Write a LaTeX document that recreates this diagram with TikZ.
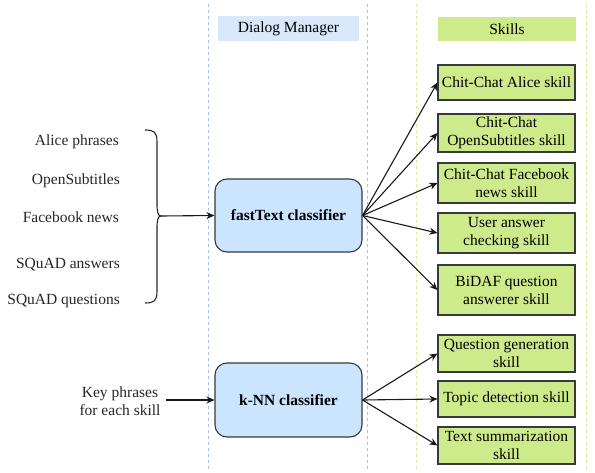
\documentclass[tikz,border=0pt]{standalone}
\usepackage{fontspec}
\setmainfont{Liberation Serif}
\newfontfamily\diagserif{Liberation Serif}
\usetikzlibrary{arrows.meta}
\definecolor{hdrblue}{HTML}{DAE8FC}
\definecolor{clsblue}{HTML}{CCE5FF}
\definecolor{skgreen}{HTML}{CDEB8B}
\definecolor{edgegray}{HTML}{36393D}
\definecolor{txtgray}{HTML}{262626}
\definecolor{laneblue}{HTML}{A9BFE6}
\definecolor{laneyellow}{HTML}{E2E89A}
\tikzset{
  every node/.style={font=\diagserif\fontsize{15.5}{18}\selectfont, text=black},
  lane/.style={dash pattern=on 3pt off 3pt, line width=0.8pt},
  hdr/.style={inner sep=0pt, anchor=center},
  clsbox/.style={draw=edgegray, fill=clsblue, rounded corners=12pt, line width=1.1pt,
    minimum width=147pt, minimum height=73pt, font=\diagserif\fontsize{15.5}{18}\selectfont\bfseries},
  skillbox/.style={draw=edgegray, fill=skgreen, line width=1.1pt, minimum width=137pt,
    inner sep=0pt, align=center, text=black},
  srctext/.style={anchor=east, text=txtgray, inner sep=0pt},
  arr/.style={-{Stealth[length=8pt,width=7pt,inset=2.5pt]}, line width=1.1pt, draw=black!90},
}
\begin{document}
\begin{tikzpicture}[x=1pt,y=-1pt]
\useasboundingbox (0,0) rectangle (595,472);
% lanes
\draw[lane, draw=laneblue] (208,4) -- (208,470);
\draw[lane, draw=laneblue] (367,4) -- (367,470);
\draw[lane, draw=laneyellow] (416,4) -- (416,470);
\draw[lane, draw=laneyellow] (586,4) -- (586,470);
% headers
\node[hdr, fill=hdrblue, minimum width=141pt, minimum height=25pt] (dm) at (288.5,28.5) {Dialog Manager};
\node[hdr, fill=skgreen, minimum width=138pt, minimum height=24pt] (sk) at (507,29) {Skills};
% classifiers
\node[clsbox] (ft) at (288.5,215.5) {fastText classifier};
\node[clsbox, minimum height=74pt] (knn) at (288.5,400) {k-NN classifier};
% skills
\node[skillbox, minimum height=35pt] (s1) at (506.5,82.5) {Chit-Chat Alice skill};
\node[skillbox, minimum height=38pt] (s2) at (506.5,133) {Chit-Chat\\OpenSubtitles skill};
\node[skillbox, minimum height=40pt] (s3) at (506.5,183) {Chit-Chat Facebook\\news skill};
\node[skillbox, minimum height=40pt] (s4) at (506.5,233) {User answer\\checking skill};
\node[skillbox, minimum height=50pt] (s5) at (506.5,290) {BiDAF question\\answerer skill};
\node[skillbox, minimum height=37pt] (s6) at (506.5,353.5) {Question generation\\skill};
\node[skillbox, minimum height=36pt] (s7) at (506.5,399) {Topic detection skill};
\node[skillbox, minimum height=37pt] (s8) at (506.5,445.5) {Text summarization\\skill};
% sources
\node[srctext] (a1) at (119,142) {Alice phrases};
\node[srctext] (a2) at (120,181) {OpenSubtitles};
\node[srctext] (a3) at (119,217) {Facebook news};
\node[srctext] (a4) at (120,265) {SQuAD answers};
\node[srctext] (a5) at (120,301) {SQuAD questions};
\node[text=txtgray, align=center, inner sep=0pt] (kp) at (120,401) {Key phrases\\for each skill};
% brace
\coordinate (btip) at (161,216);
\draw[line width=1.1pt, draw=txtgray]
  (145,130) .. controls (154,130) and (157,132) .. (157,142)
  -- (157,204) .. controls (157,212) and (158,216) .. (btip)
  .. controls (158,216) and (157,220) .. (157,228)
  -- (157,291) .. controls (157,301) and (154,303) .. (145,303);
\draw[arr] (btip) -- (ft.west);
\coordinate (kpe) at (166,400);
\draw[arr] (kpe) -- (knn.west);
% arrows to skills
\foreach \s in {s1,s2,s3,s4,s5} \draw[arr] (ft.east) -- (\s.west);
\foreach \s in {s6,s7,s8} \draw[arr] (knn.east) -- (\s.west);
\end{tikzpicture}
\end{document}
